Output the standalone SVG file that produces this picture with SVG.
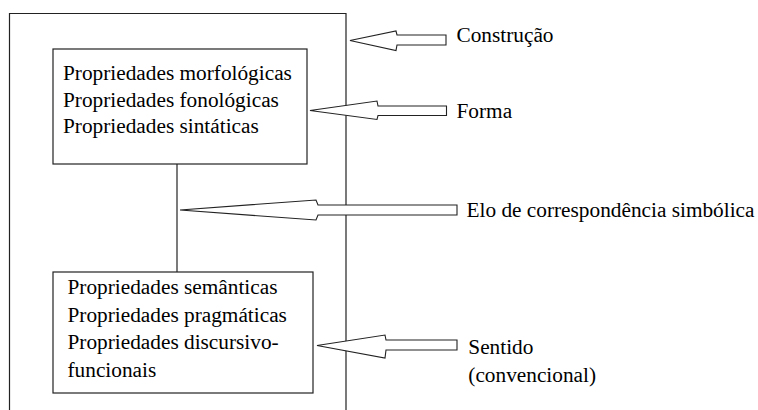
<svg xmlns="http://www.w3.org/2000/svg" width="758" height="410" viewBox="0 0 758 410">
<style>
.box{fill:#fff;stroke:#222;stroke-width:1.2}
.ln{fill:none;stroke:#222;stroke-width:1.2}
.arr{fill:#fff;stroke:#222;stroke-width:1.1;stroke-linejoin:miter}
</style>
<rect width="758" height="410" fill="#fff"/>
<g id="construcao">
<path class="ln" d="M9.5,420 V13.5 H346 V420"/>
</g>
<g id="forma">
<rect class="box" x="53" y="49" width="254" height="115"/>
<text x="63" y="80" font-family="Liberation Serif" font-size="21.3">Propriedades morfológicas</text>
<text x="63" y="106.7" font-family="Liberation Serif" font-size="21.3">Propriedades fonológicas</text>
<text x="63" y="133.3" font-family="Liberation Serif" font-size="21.3">Propriedades sintáticas</text>
</g>
<g id="sentido">
<rect class="box" x="53" y="272" width="260" height="121"/>
<text x="67.5" y="294" font-family="Liberation Serif" font-size="21.3">Propriedades semânticas</text>
<text x="67.5" y="321.5" font-family="Liberation Serif" font-size="21.3">Propriedades pragmáticas</text>
<text x="67.5" y="349" font-family="Liberation Serif" font-size="21.3">Propriedades discursivo-</text>
<text x="67.5" y="376.5" font-family="Liberation Serif" font-size="21.3">funcionais</text>
</g>
<g id="connectors">
<line class="ln" x1="177" y1="164" x2="177" y2="272"/>
<polygon class="arr" points="350,40.5 396,31 397,35 446,35 446,45 397,45 396,50.5"/>
<polygon class="arr" points="310,110.5 377,101 378,106 446.5,106 446.5,115.5 378,115.5 377,119.5"/>
<polygon class="arr" points="180,210 316,200 318,205 457,205 457,215 318,215 316,220"/>
<polygon class="arr" points="317,345.5 385,335 386,340 457,340 457,350 386,350 385,358"/>
</g>
<g id="labels">
<text x="456.5" y="42" font-family="Liberation Serif" font-size="21.3">Construção</text>
<text x="456.5" y="118.3" font-family="Liberation Serif" font-size="21.3">Forma</text>
<text x="466.5" y="217" font-family="Liberation Serif" font-size="21.3">Elo de correspondência simbólica</text>
<text x="468.3" y="354.3" font-family="Liberation Serif" font-size="21.3">Sentido</text>
<text x="468.3" y="382" font-family="Liberation Serif" font-size="21.3">(convencional)</text>
</g>
</svg>
